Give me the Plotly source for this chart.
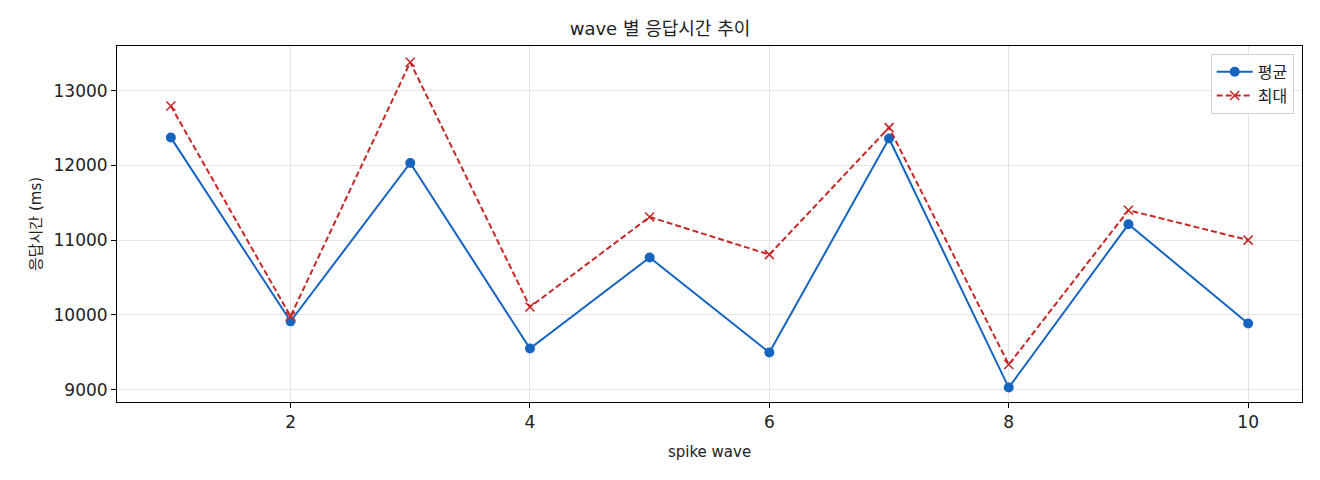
import plotly.graph_objects as go

waves = [1, 2, 3, 4, 5, 6, 7, 8, 9, 10]
avg_ms = [12371, 9913, 12032, 9549, 10766, 9495, 12358, 9027, 11211, 9883]
max_ms = [12794, 9980, 13379, 10105, 11309, 10806, 12505, 9335, 11399, 11000]
x_ticks = [2, 4, 6, 8, 10]
y_ticks = [9000, 10000, 11000, 12000, 13000]

FONT = "DejaVu Sans, Noto Sans CJK KR, sans-serif"

fig = go.Figure()
fig.add_trace(go.Scatter(
    x=waves, y=avg_ms, name="평균", mode="lines+markers",
    line=dict(color="#1565C0", width=2),
    marker=dict(symbol="circle", size=10, color="#1565C0"),
))
fig.add_trace(go.Scatter(
    x=waves, y=max_ms, name="최대", mode="lines+markers",
    line=dict(color="#C62828", width=2, dash="6px,3px"),
    marker=dict(symbol="x-thin", size=9, color="#C62828",
                line=dict(color="#C62828", width=1.6)),
))

axis_common = dict(
    showline=True, linecolor="black", linewidth=1, mirror=True,
    ticks="outside", ticklen=5, tickcolor="black", tickwidth=1,
    showgrid=True, gridcolor="rgba(0,0,0,0.1)", gridwidth=1,
    zeroline=False, tickfont=dict(family=FONT, size=17, color="#222"),
)

fig.update_layout(
    width=1320, height=480,
    margin=dict(l=117, r=18, t=46, b=78),
    paper_bgcolor="white", plot_bgcolor="white",
    font=dict(family=FONT, color="#222"),
    title=dict(text="wave 별 응답시간 추이", x=0.5, xanchor="center",
               y=1 - 29 / 480, yanchor="middle",
               font=dict(family=FONT, size=18, color="#222")),
    xaxis=dict(range=[0.55, 10.45], tickvals=x_ticks, tickformat="d",
               title=dict(text="spike wave", font=dict(family=FONT, size=15), standoff=15),
               **axis_common),
    yaxis=dict(range=[8834, 13596], tickvals=y_ticks, tickformat="d",
               title=dict(text="응답시간 (ms)", font=dict(family=FONT, size=15), standoff=8),
               **axis_common),
    legend=dict(x=0.993, y=0.978, xanchor="right", yanchor="top",
                bgcolor="rgba(255,255,255,0.9)", bordercolor="#d0d0d0", borderwidth=1,
                font=dict(family=FONT, size=16), itemwidth=36, tracegroupgap=0),
    showlegend=True,
)

fig.write_html("out.html", config={"displayModeBar": False},
               post_script="document.body.style.margin='0';document.body.style.padding='0';")
